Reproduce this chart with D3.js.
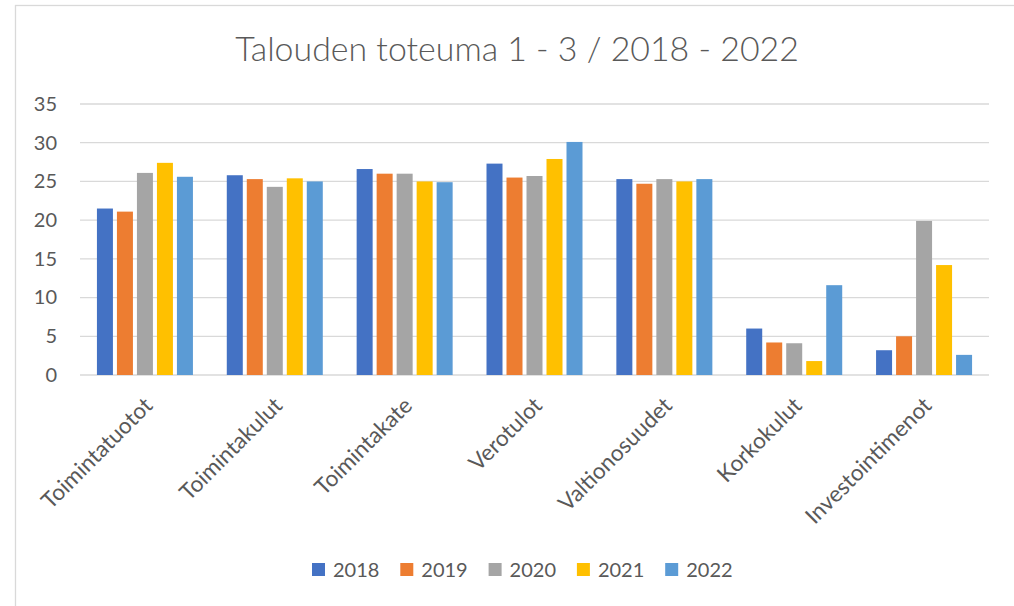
<!DOCTYPE html>
<html>
<head>
<meta charset="utf-8">
<script src="https://cdn.jsdelivr.net/npm/d3@7"></script>
<style>
  html, body { margin: 0; padding: 0; background: #fff; }
  svg { display: block; }
  text { font-family: Lato, "Open Sans", sans-serif; fill: #595959; }
</style>
</head>
<body>
<svg id="chart" width="1014" height="606"></svg>
<script>
const title = "Talouden toteuma 1 - 3 / 2018 - 2022";
const categories = ["Toimintatuotot", "Toimintakulut", "Toimintakate", "Verotulot", "Valtionosuudet", "Korkokulut", "Investointimenot"];
const years = ["2018", "2019", "2020", "2021", "2022"];
const v2018 = [21.5, 25.8, 26.6, 27.3, 25.3, 6.0, 3.2];
const v2019 = [21.1, 25.3, 26.0, 25.5, 24.7, 4.2, 5.0];
const v2020 = [26.1, 24.3, 26.0, 25.7, 25.3, 4.1, 19.9];
const v2021 = [27.4, 25.4, 25.0, 27.9, 25.0, 1.8, 14.2];
const v2022 = [25.6, 25.0, 24.9, 30.1, 25.3, 11.6, 2.6];
const yTicks = [0, 5, 10, 15, 20, 25, 30, 35];
const colors = ["#4472C4", "#ED7D31", "#A5A5A5", "#FFC000", "#5B9BD5"];

const seriesValues = [v2018, v2019, v2020, v2021, v2022];
const svg = d3.select("#chart");

// chart border
svg.append("rect").attr("x", 15.5).attr("y", 5.5).attr("width", 1100).attr("height", 700)
  .attr("fill", "#fff").attr("stroke", "#d9d9d9").attr("stroke-width", 1.3);

const plot = { left: 80, right: 989, top: 104, bottom: 375 };

const x0 = d3.scaleBand().domain(categories).range([plot.left, plot.right]).padding(0);
const x1 = d3.scaleBand().domain(years).range([0, 96]).paddingInner(0.2).paddingOuter(0);
const y = d3.scaleLinear().domain([0, 35]).range([plot.bottom, plot.top]);

// gridlines
svg.append("g").selectAll("line").data(yTicks).join("line")
  .attr("x1", plot.left).attr("x2", plot.right)
  .attr("y1", d => y(d)).attr("y2", d => y(d))
  .attr("stroke", "#d9d9d9").attr("stroke-width", 1.3);

// y axis labels via d3 axis
const yAxis = d3.axisLeft(y).tickValues(yTicks).tickSize(0).tickPadding(0);
const gy = svg.append("g").attr("transform", `translate(${plot.left - 23},0)`).call(yAxis);
gy.select(".domain").remove();
gy.selectAll("text").attr("font-size", 20).attr("fill", "#595959")
  .style("font-family", "Lato, 'Open Sans', sans-serif");

// bars
const groupOffset = (x0.bandwidth() - 96) / 2;
const g = svg.append("g");
years.forEach((yr, si) => {
  g.append("g").attr("fill", colors[si]).selectAll("rect")
    .data(categories.map((c, ci) => ({ c, v: seriesValues[si][ci] })))
    .join("rect")
    .attr("x", d => x0(d.c) + groupOffset + x1(yr))
    .attr("width", x1.bandwidth())
    .attr("y", d => y(d.v))
    .attr("height", d => y(0) - y(d.v));
});

// x axis labels
const xAxis = d3.axisBottom(x0).tickSize(0).tickPadding(0);
const gx = svg.append("g").attr("transform", `translate(0,${plot.bottom})`).call(xAxis);
gx.select(".domain").remove();
gx.selectAll("text")
  .attr("font-size", 22.5).attr("fill", "#595959")
  .style("font-family", "Lato, 'Open Sans', sans-serif")
  .attr("text-anchor", "end")
  .attr("dy", null).attr("y", 0)
  .attr("transform", "translate(9,32) rotate(-45)");

// title
const t = svg.append("text").attr("x", 517).attr("y", 61).attr("text-anchor", "middle")
  .attr("font-weight", 300).attr("font-size", 34).text(title);
const tl = t.node().getComputedTextLength();
t.attr("font-size", 34 * 564 / tl);

// legend
const lx = d3.scalePoint().domain(years).range([312, 312 + 4 * 88.3]);
const lg = svg.append("g").selectAll("g").data(years).join("g")
  .attr("transform", d => `translate(${lx(d)},563)`);
lg.append("rect").attr("width", 13).attr("height", 13).attr("fill", (d, i) => colors[i]);
lg.append("text").attr("x", 21).attr("y", 14).attr("font-size", 20).text(d => d);
</script>
</body>
</html>
